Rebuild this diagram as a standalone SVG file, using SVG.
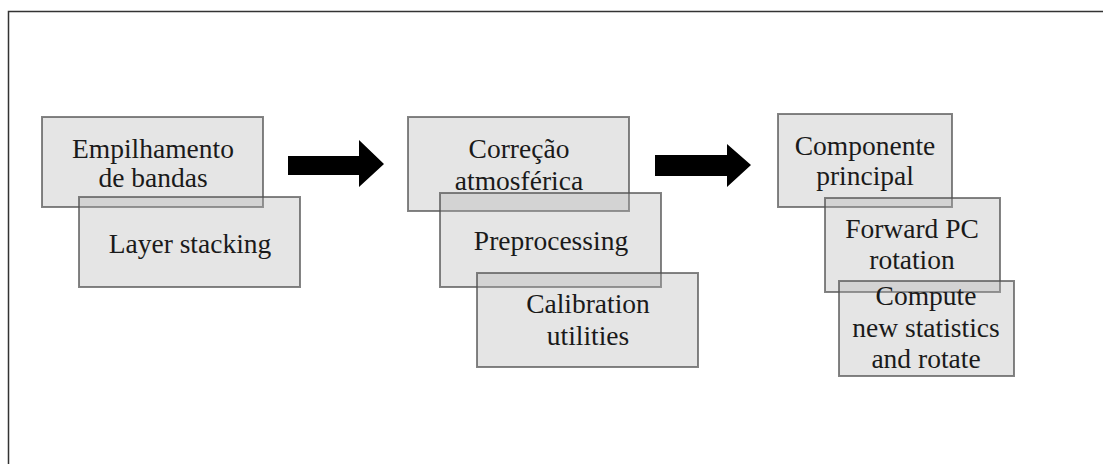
<svg xmlns="http://www.w3.org/2000/svg" width="1103" height="464" viewBox="0 0 1103 464">
<style>
.box{fill:#b0b0b0;fill-opacity:0.33;stroke:#505050;stroke-opacity:0.7;stroke-width:2}
.t{font-family:"Liberation Serif","Times New Roman",serif;font-size:27.5px;fill:#1a1a1a;text-anchor:middle}
.arrow{fill:#000}
.frame{fill:none;stroke:#333;stroke-width:1.5}
</style>
<rect width="1103" height="464" fill="#fff"/>
<path class="frame" d="M8.5,464 V11.5 H1103"/>
<g id="n1"><rect class="box" x="42" y="117" width="221" height="90"/><text class="t" x="153" y="158">Empilhamento</text><text class="t" x="153" y="187">de bandas</text></g>
<g id="n2"><rect class="box" x="79" y="197" width="221" height="90"/><text class="t" x="190" y="253">Layer stacking</text></g>
<g id="n3"><rect class="box" x="408" y="117" width="221" height="94"/><text class="t" x="519" y="158">Correção</text><text class="t" x="519" y="190">atmosférica</text></g>
<g id="n4"><rect class="box" x="440" y="193" width="221" height="94"/><text class="t" x="551" y="250">Preprocessing</text></g>
<g id="n5"><rect class="box" x="477" y="273" width="221" height="94"/><text class="t" x="588" y="313">Calibration</text><text class="t" x="588" y="345">utilities</text></g>
<g id="n6"><rect class="box" x="778" y="114" width="174" height="93"/><text class="t" x="865" y="155">Componente</text><text class="t" x="865" y="185">principal</text></g>
<g id="n7"><rect class="box" x="825" y="198" width="175" height="94"/><text class="t" x="912" y="238">Forward PC</text><text class="t" x="912" y="269">rotation</text></g>
<g id="n8"><rect class="box" x="839" y="281" width="175" height="95"/><text class="t" x="926" y="305">Compute</text><text class="t" x="926" y="337">new statistics</text><text class="t" x="926" y="368">and rotate</text></g>
<g id="connectors">
<path class="arrow" d="M288,156 H359 V140 L384,164 L359,187 V175 H288 Z"/>
<path class="arrow" d="M655,155 H727 V144 L751,165 L727,187 V176 H655 Z"/>
</g>
</svg>
